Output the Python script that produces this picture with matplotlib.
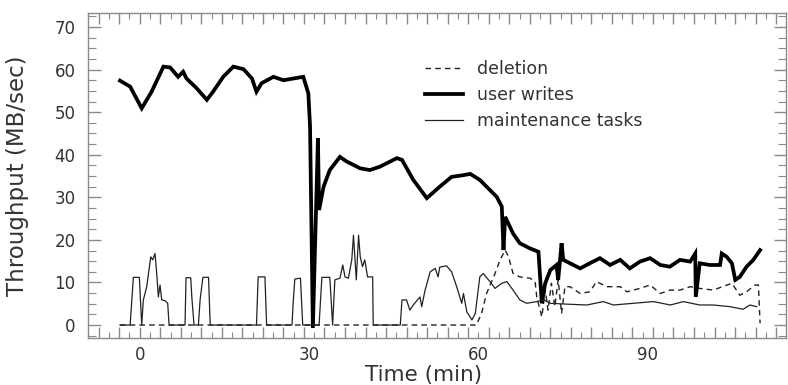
import matplotlib
matplotlib.use("Agg")
import matplotlib.pyplot as plt
from matplotlib.ticker import MultipleLocator, FixedLocator, NullFormatter
import numpy as np

# ---- data (time in minutes, throughput in MB/sec) ----
writes_t = [-3.5, -1.7, 0.35, 2.1, 4.2, 5.4, 6.8, 7.7, 8.3, 10.1, 11.9, 13.0, 14.8, 16.6, 18.4,
            19.9, 20.7, 21.6, 23.7, 25.5, 27.2, 29.0, 29.9, 30.2, 30.7, 31.6, 31.8, 32.6, 33.7,
            35.5, 36.7, 39.1, 40.8, 42.6, 44.4, 45.6, 46.5, 48.5, 50.9, 53.2, 55.3, 57.4, 58.6,
            60.3, 62.1, 63.3, 64.2, 64.5, 64.8, 66.2, 67.4, 69.2, 70.7, 71.3, 71.9, 72.8, 73.9,
            74.2, 74.8, 75.1, 76.9, 78.1, 79.8, 81.6, 83.4, 85.2, 86.9, 88.7, 90.5, 92.3, 94.0,
            95.8, 97.6, 98.5, 98.6, 99.3, 101.1, 102.9, 103.2, 104.1, 105.0, 105.6, 106.4, 107.6,
            108.8, 110.0]
writes_v = [57.4, 56.0, 50.9, 54.8, 60.7, 60.5, 58.3, 59.5, 57.9, 55.6, 52.9, 54.8, 58.3, 60.7, 60.1,
            57.9, 54.8, 56.8, 58.3, 57.5, 57.9, 58.3, 54.4, 46.6, -0.7, 43.9, 27.0, 32.5, 36.4,
            39.5, 38.4, 36.8, 36.4, 37.2, 38.4, 39.2, 38.8, 34.1, 29.8, 32.5, 34.8, 35.2, 35.5,
            34.1, 31.7, 30.1, 27.8, 17.6, 25.4, 21.5, 19.2, 18.0, 17.2, 5.1, 9.8, 12.9, 14.1,
            10.6, 19.2, 15.3, 14.1, 13.3, 14.5, 15.7, 14.1, 15.3, 13.3, 14.9, 15.7, 14.1, 13.7,
            15.3, 14.9, 16.8, 6.6, 14.5, 14.1, 14.1, 16.8, 16.0, 14.5, 10.6, 11.3, 13.7,
            15.3, 17.6]

maint_t = [-3.5, -1.7, -1.13, -0.07, 0.35, 0.64, 1.24, 1.95, 2.3, 2.71, 3.01, 3.3, 3.6, 3.9, 4.49,
           4.96, 5.2, 8.03, 8.21, 9.04, 9.27, 9.63, 10.4, 10.7, 11.2, 12.2, 12.5, 20.7, 21.0, 22.2,
           22.5, 27.0, 27.2, 27.5, 28.5, 28.9, 31.8, 32.3, 33.7, 34.2, 34.6, 35.5, 36.0, 36.4,
           37.0, 37.6, 37.9, 38.4, 38.8, 39.1, 39.5, 39.9, 40.4, 41.3, 41.4, 46.2, 46.5, 47.3,
           47.9, 48.5, 49.7, 50.0, 50.6, 51.5, 52.4, 52.9, 53.2, 54.4, 55.3, 56.2, 57.1, 57.4,
           58.0, 58.9, 59.5, 60.3, 60.9, 62.1, 63.0, 64.2, 65.1, 66.2, 67.4, 68.6, 70.4, 71.6,
           72.8, 75.7, 79.3, 82.2, 84.0, 87.5, 91.1, 94.1, 96.4, 99.3, 101.7, 104.7, 107.0,
           108.2, 109.4]
maint_v = [0, 0, 11.2, 11.2, 0, 5.9, 9.0, 16.0, 15.3, 16.8, 12.1, 6.6, 9.4, 5.9, 5.7,
           5.1, 0, 0, 11.1, 11.1, 5.9, 0, 0, 5.9, 11.2, 11.2, 0, 0, 11.3, 11.3,
           0, 0, 5.1, 10.8, 11.0, 0, 0, 11.2, 11.2, 0, 10.6, 11.0, 14.1, 11.3,
           11.0, 15.3, 21.1, 10.6, 21.1, 16.0, 13.7, 15.3, 11.3, 11.3, 0, 0, 5.9, 5.9,
           3.5, 4.7, 6.6, 4.3, 8.2, 12.5, 13.3, 11.3, 13.6, 13.9, 12.5, 9.0, 5.1, 7.4,
           3.1, 1.2, 2.7, 11.3, 12.1, 10.2, 8.6, 9.8, 10.2, 8.2, 5.9, 5.1, 5.5, 5.9,
           5.1, 4.9, 4.7, 5.5, 4.7, 5.1, 5.5, 4.7, 5.5, 4.7, 4.7, 4.3, 3.7,
           4.7, 4.3]

del_t = [-3.5, 59.7, 60.6, 61.5, 63.0, 63.9, 64.8, 65.4, 66.2, 67.4, 69.2, 70.1, 70.4, 71.3, 71.9,
         72.4, 73.0, 73.6, 74.2, 74.8, 75.4, 76.3, 78.1, 79.8, 81.0, 82.8, 85.2, 86.4, 88.7,
         90.5, 92.3, 94.0, 95.8, 97.6, 99.3, 101.7, 103.3, 105.0, 106.4, 107.6, 109.1, 109.7, 110.0]
del_v = [0, 0, 2.7, 7.4, 12.1, 15.3, 17.6, 16.0, 12.1, 11.3, 11.0, 10.2, 6.6, 1.9, 8.2,
         3.5, 9.8, 4.3, 10.6, 2.7, 9.0, 9.0, 7.4, 7.8, 10.2, 9.0, 9.0, 7.8, 8.6,
         9.4, 7.4, 8.2, 8.2, 9.0, 8.6, 8.2, 9.0, 9.8, 7.0, 7.8, 9.4, 9.4, 0.4]

x_ticks = [0, 30, 60, 90]
y_ticks = [0, 10, 20, 30, 40, 50, 60, 70]

fig = plt.figure(figsize=(7.88, 3.85), dpi=100)
ax = fig.add_axes([0.1117, 0.1221, 0.8858, 0.8442])

ax.plot(del_t, del_v, color="#222222", lw=1.0, linestyle=(0, (4, 3)), label="deletion")
ax.plot(writes_t, writes_v, color="black", lw=2.7, solid_joinstyle="miter", label="user writes")
ax.plot(maint_t, maint_v, color="#222222", lw=0.9, label="maintenance tasks")

ax.set_xlim(-9.17, 114.6)
ax.set_ylim(-3.05, 73.3)

edge = "#8a8a8a"
for s in ax.spines.values():
    s.set_color(edge)
    s.set_linewidth(1.0)

ax.xaxis.set_major_locator(FixedLocator(x_ticks))
ax.yaxis.set_major_locator(FixedLocator(y_ticks))
ax.yaxis.set_minor_locator(MultipleLocator(2.5))
ax.tick_params(axis="x", which="major", length=0, labelsize=12, labelcolor="#333333", pad=6)
ax.tick_params(axis="y", which="both", direction="in", left=True, right=True, color=edge,
               labelsize=12, labelcolor="#333333")
ax.tick_params(axis="y", which="major", length=9, width=1.0, pad=9)
ax.tick_params(axis="y", which="minor", length=6, width=0.8)

# ruler ticks along top and bottom
for loc in ("bottom", "top"):
    sec = ax.secondary_xaxis(loc)
    sec.spines[loc].set_visible(False)
    sec.xaxis.set_major_locator(MultipleLocator(3.64))
    sec.xaxis.set_minor_locator(MultipleLocator(1.82))
    sec.xaxis.set_major_formatter(NullFormatter())
    sec.tick_params(which="both", direction="in", color=edge)
    sec.tick_params(which="major", length=8, width=1.0)
    sec.tick_params(which="minor", length=4, width=0.8)

ax.set_xlabel("Time (min)", fontsize=15.5, color="#333333")
ax.xaxis.set_label_coords(0.481, -0.082)
ax.set_ylabel("Throughput (MB/sec)", fontsize=16.5, color="#333333")
ax.yaxis.set_label_coords(-0.084, 0.5)

leg = ax.legend(loc="upper left", bbox_to_anchor=(0.483, 0.855), borderaxespad=0, borderpad=0,
                frameon=False, fontsize=12.5, handlelength=2.2, handletextpad=0.8, labelspacing=0.45)
for t in leg.get_texts():
    t.set_color("#333333")

fig.savefig("out.png", dpi=100)
